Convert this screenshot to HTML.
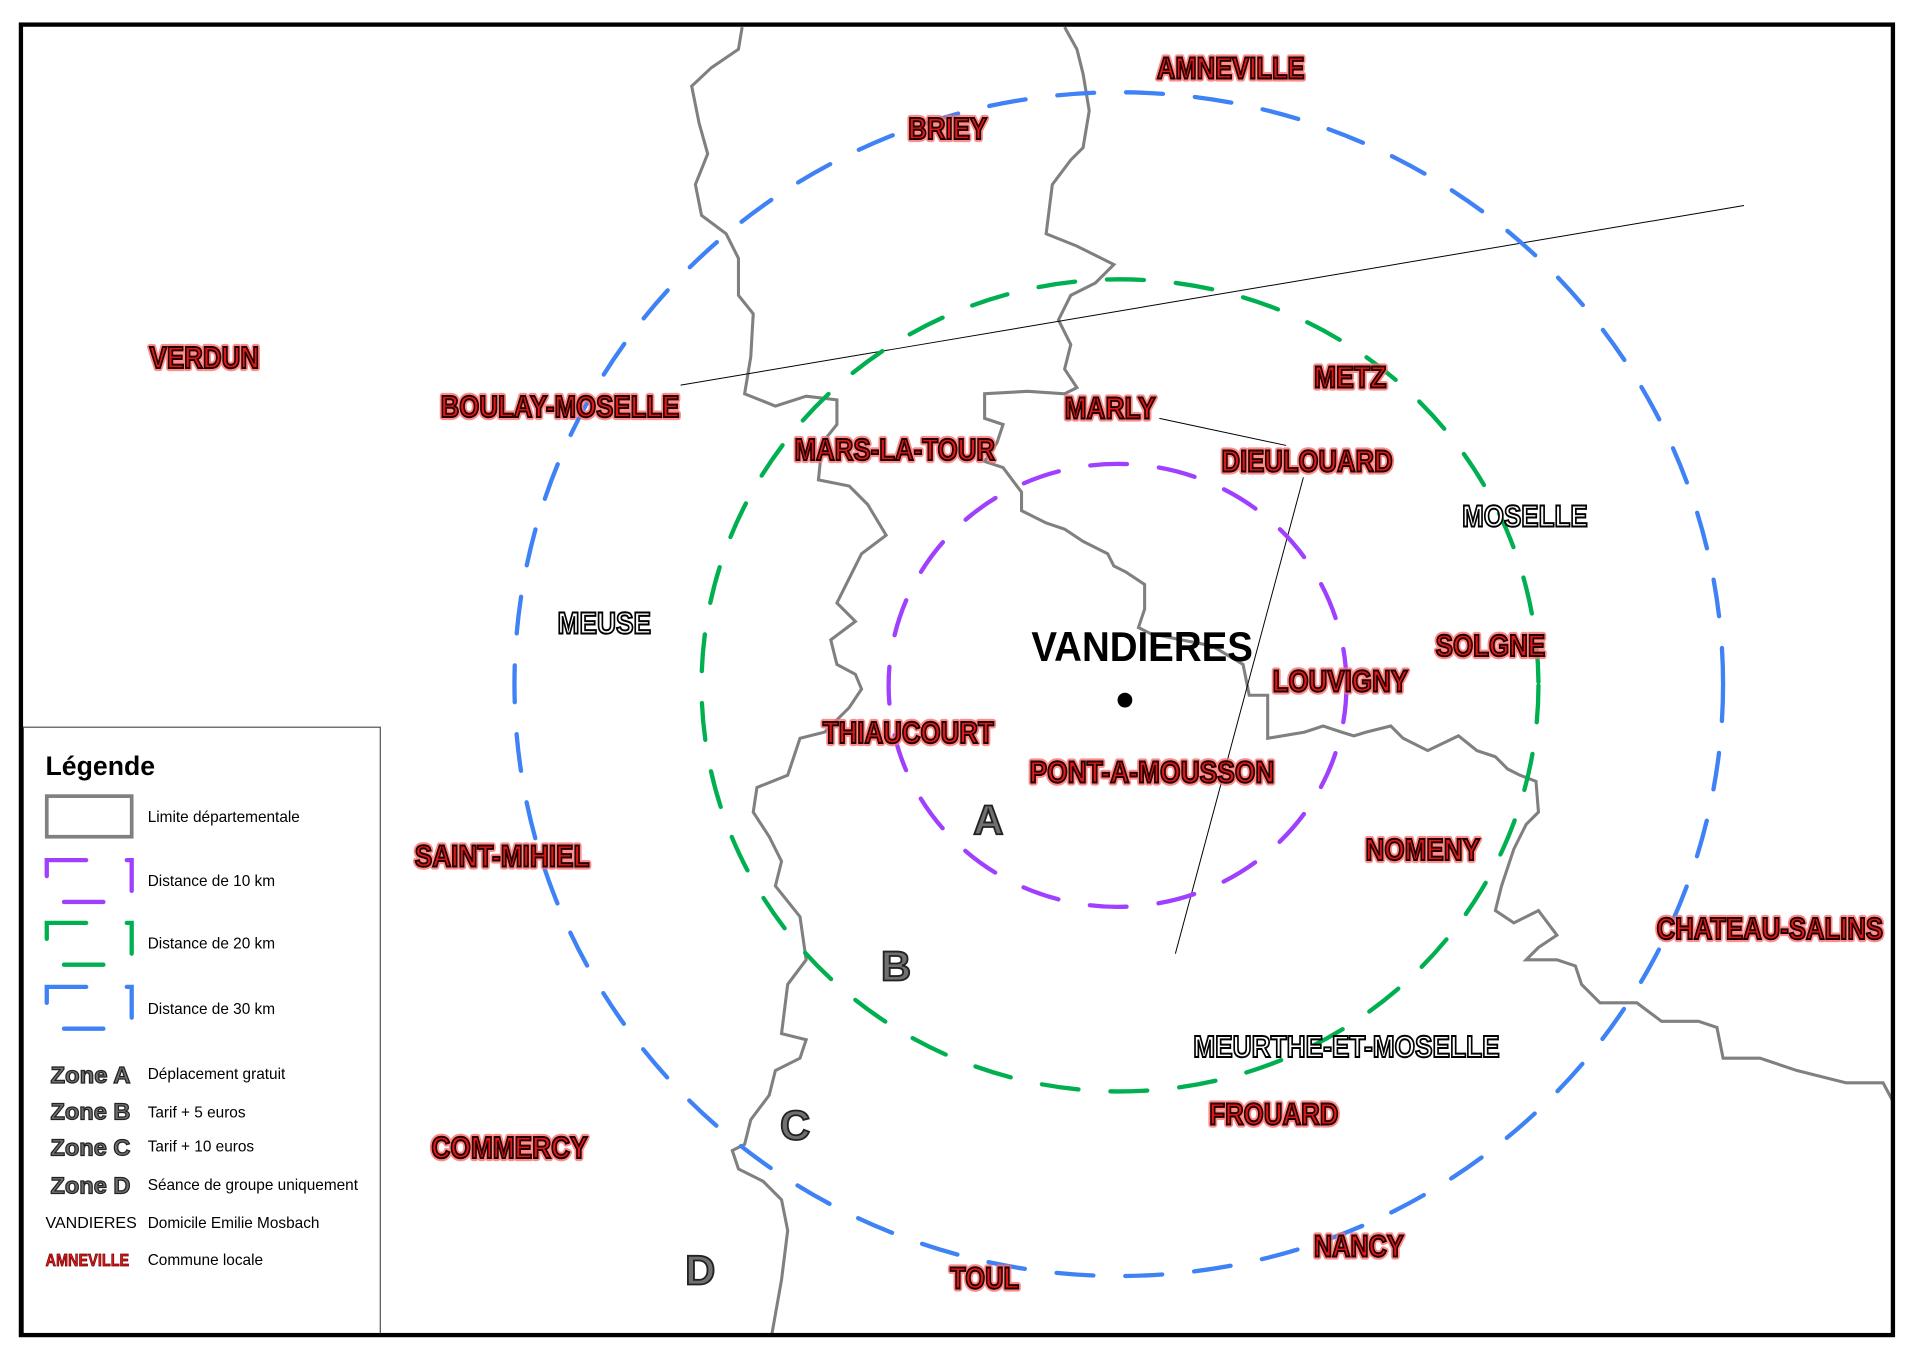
<!DOCTYPE html>
<html><head><meta charset="utf-8"><style>
html,body{margin:0;padding:0;background:#fff}
svg{display:block}
.lb{font-family:"Liberation Sans",Arial,sans-serif;font-size:25px;font-weight:bold}
</style></head><body>
<svg width="1920" height="1356" viewBox="0 0 1560 1102" preserveAspectRatio="none" xmlns="http://www.w3.org/2000/svg">
<rect x="0" y="0" width="1560" height="1102" fill="#fff"/>
<!-- department borders -->
<polyline fill="none" stroke="#808080" stroke-width="2.5" points="603,22 600,40 578,55 562,70 568,100 575,125 565,150 570,175 590,190 600,210 600,240 612,255 610,290 605,320 630,330 655,322 680,325 680,345 668,360 665,390 690,395 705,410 720,435 700,450 690,470 680,490 695,505 675,520 680,540 695,548 700,560 690,575 670,595 650,600 640,630 615,640 612,660 625,680 635,700 630,720 650,745 655,780 640,800 635,840 655,845 650,860 630,870 625,890 610,910 605,930 595,935 600,950 620,960 635,975 640,1000 635,1040 627,1085"/>
<polyline fill="none" stroke="#808080" stroke-width="2.5" points="865,22 875,40 880,60 885,90 880,120 870,130 855,150 850,190 875,200 905,215 890,230 870,240 860,260 870,280 865,300 875,315 865,320 835,318 800,320 800,340 815,345 810,360 800,375 815,380 830,400 830,415 850,425 865,430 880,440 900,450 905,460 915,465 930,475 930,495 925,510 935,515 960,520 985,525 1010,540 1015,565 1030,565 1030,600 1060,595 1075,590 1090,595 1100,598 1110,595 1130,590 1140,600 1160,610 1185,598 1200,610 1215,615 1225,625 1235,630 1248,635 1250,660 1240,670 1230,690 1220,720 1215,740 1230,750 1250,740 1265,760 1250,770 1240,780 1265,780 1280,785 1285,800 1300,815 1330,815 1350,830 1380,830 1395,835 1400,860 1430,860 1460,870 1500,880 1530,880 1538,895"/>
<!-- thin lines -->
<line x1="553" y1="313" x2="1417" y2="167" stroke="#000" stroke-width="0.8"/>
<polyline fill="none" stroke="#000" stroke-width="0.8" points="942,340 1045,362"/>
<line x1="1059" y1="388" x2="955" y2="775" stroke="#000" stroke-width="0.8"/>
<!-- circles -->
<ellipse cx="908" cy="557" rx="186" ry="180" fill="none" stroke="#a040ff" stroke-width="3.5" stroke-dasharray="30 26" stroke-linecap="round"/>
<ellipse cx="910" cy="557" rx="340" ry="330" fill="none" stroke="#00b050" stroke-width="3.5" stroke-dasharray="30 26" stroke-linecap="round"/>
<ellipse cx="909" cy="556" rx="491" ry="481" fill="none" stroke="#3f82f5" stroke-width="3.5" stroke-dasharray="30 26" stroke-linecap="round"/>
<!-- dot -->
<circle cx="914" cy="569" r="6" fill="#000"/>
<!-- red labels -->
<g class="lb" text-anchor="middle">
<g stroke="#ff7070" stroke-width="5" fill="#ff7070" stroke-linejoin="round" opacity="0.8">
<text x="1000" y="64" textLength="120" lengthAdjust="spacingAndGlyphs">AMNEVILLE</text>
<text x="770" y="113" textLength="64" lengthAdjust="spacingAndGlyphs">BRIEY</text>
<text x="166" y="299" textLength="89" lengthAdjust="spacingAndGlyphs">VERDUN</text>
<text x="455" y="339" textLength="194" lengthAdjust="spacingAndGlyphs">BOULAY-MOSELLE</text>
<text x="1097" y="315" textLength="59" lengthAdjust="spacingAndGlyphs">METZ</text>
<text x="902" y="340" textLength="74" lengthAdjust="spacingAndGlyphs">MARLY</text>
<text x="727" y="374" textLength="163" lengthAdjust="spacingAndGlyphs">MARS-LA-TOUR</text>
<text x="1062" y="383" textLength="139" lengthAdjust="spacingAndGlyphs">DIEULOUARD</text>
<text x="1211" y="533" textLength="89" lengthAdjust="spacingAndGlyphs">SOLGNE</text>
<text x="1089" y="562" textLength="110" lengthAdjust="spacingAndGlyphs">LOUVIGNY</text>
<text x="738" y="604" textLength="139" lengthAdjust="spacingAndGlyphs">THIAUCOURT</text>
<text x="936" y="636" textLength="199" lengthAdjust="spacingAndGlyphs">PONT-A-MOUSSON</text>
<text x="1156" y="699" textLength="93" lengthAdjust="spacingAndGlyphs">NOMENY</text>
<text x="408" y="704" textLength="142" lengthAdjust="spacingAndGlyphs">SAINT-MIHIEL</text>
<text x="1438" y="763" textLength="184" lengthAdjust="spacingAndGlyphs">CHATEAU-SALINS</text>
<text x="1035" y="914" textLength="105" lengthAdjust="spacingAndGlyphs">FROUARD</text>
<text x="414" y="941" textLength="127" lengthAdjust="spacingAndGlyphs">COMMERCY</text>
<text x="1104" y="1021" textLength="73" lengthAdjust="spacingAndGlyphs">NANCY</text>
<text x="800" y="1047" textLength="56" lengthAdjust="spacingAndGlyphs">TOUL</text>
</g>
<g stroke="#200" stroke-width="1.6" fill="#e01818">
<text x="1000" y="64" textLength="120" lengthAdjust="spacingAndGlyphs">AMNEVILLE</text>
<text x="770" y="113" textLength="64" lengthAdjust="spacingAndGlyphs">BRIEY</text>
<text x="166" y="299" textLength="89" lengthAdjust="spacingAndGlyphs">VERDUN</text>
<text x="455" y="339" textLength="194" lengthAdjust="spacingAndGlyphs">BOULAY-MOSELLE</text>
<text x="1097" y="315" textLength="59" lengthAdjust="spacingAndGlyphs">METZ</text>
<text x="902" y="340" textLength="74" lengthAdjust="spacingAndGlyphs">MARLY</text>
<text x="727" y="374" textLength="163" lengthAdjust="spacingAndGlyphs">MARS-LA-TOUR</text>
<text x="1062" y="383" textLength="139" lengthAdjust="spacingAndGlyphs">DIEULOUARD</text>
<text x="1211" y="533" textLength="89" lengthAdjust="spacingAndGlyphs">SOLGNE</text>
<text x="1089" y="562" textLength="110" lengthAdjust="spacingAndGlyphs">LOUVIGNY</text>
<text x="738" y="604" textLength="139" lengthAdjust="spacingAndGlyphs">THIAUCOURT</text>
<text x="936" y="636" textLength="199" lengthAdjust="spacingAndGlyphs">PONT-A-MOUSSON</text>
<text x="1156" y="699" textLength="93" lengthAdjust="spacingAndGlyphs">NOMENY</text>
<text x="408" y="704" textLength="142" lengthAdjust="spacingAndGlyphs">SAINT-MIHIEL</text>
<text x="1438" y="763" textLength="184" lengthAdjust="spacingAndGlyphs">CHATEAU-SALINS</text>
<text x="1035" y="914" textLength="105" lengthAdjust="spacingAndGlyphs">FROUARD</text>
<text x="414" y="941" textLength="127" lengthAdjust="spacingAndGlyphs">COMMERCY</text>
<text x="1104" y="1021" textLength="73" lengthAdjust="spacingAndGlyphs">NANCY</text>
<text x="800" y="1047" textLength="56" lengthAdjust="spacingAndGlyphs">TOUL</text>
</g>
<!-- department names -->
<g fill="#fff" stroke="#000" stroke-width="1.6">
<text x="1239" y="428" textLength="102" lengthAdjust="spacingAndGlyphs">MOSELLE</text>
<text x="491" y="515" textLength="76" lengthAdjust="spacingAndGlyphs">MEUSE</text>
<text x="1094" y="859" textLength="249" lengthAdjust="spacingAndGlyphs">MEURTHE-ET-MOSELLE</text>
</g>
<!-- zone letters -->
<g fill="#707070" stroke="#222" stroke-width="1.5" font-size="34">
<text x="803" y="678">A</text>
<text x="728" y="797">B</text>
<text x="646" y="926">C</text>
<text x="569" y="1044">D</text>
</g>
<text x="928" y="537" fill="#000" font-size="34" textLength="180" lengthAdjust="spacingAndGlyphs">VANDIERES</text>
</g>
<!-- legend -->
<rect x="19" y="591" width="290" height="494" fill="#fff" stroke="#555" stroke-width="1"/>
<g font-family="Liberation Sans,Arial,sans-serif">
<text x="37" y="630" font-size="22" font-weight="bold" textLength="89" lengthAdjust="spacingAndGlyphs">Légende</text>
<rect x="38" y="647" width="69" height="33" fill="none" stroke="#808080" stroke-width="3"/>
<g fill="none" stroke-width="3.5" stroke-linecap="round">
<path d="M38,712 V699 H70 M103,699 H107 V724 M52,733 H84" stroke="#a040ff"/>
<path d="M38,763 V750 H70 M103,750 H107 V775 M52,784 H84" stroke="#00b050"/>
<path d="M38,815 V802 H70 M103,802 H107 V827 M52,836 H84" stroke="#3f82f5"/>
</g>
<g font-size="12.5" fill="#000">
<text x="120" y="668">Limite départementale</text>
<text x="120" y="720">Distance de 10 km</text>
<text x="120" y="771">Distance de 20 km</text>
<text x="120" y="824">Distance de 30 km</text>
<text x="120" y="877">Déplacement gratuit</text>
<text x="120" y="908">Tarif + 5 euros</text>
<text x="120" y="936">Tarif + 10 euros</text>
<text x="120" y="967">Séance de groupe uniquement</text>
<text x="120" y="998">Domicile Emilie Mosbach</text>
<text x="120" y="1028">Commune locale</text>
<text x="37" y="998" font-size="13">VANDIERES</text>
</g>
<g font-size="19" font-weight="bold" fill="#707070" stroke="#222" stroke-width="1">
<text x="41" y="880" textLength="65" lengthAdjust="spacingAndGlyphs">Zone A</text>
<text x="41" y="910" textLength="65" lengthAdjust="spacingAndGlyphs">Zone B</text>
<text x="41" y="939" textLength="65" lengthAdjust="spacingAndGlyphs">Zone C</text>
<text x="41" y="970" textLength="65" lengthAdjust="spacingAndGlyphs">Zone D</text>
</g>
<text x="37" y="1029" font-size="14" font-weight="bold" fill="#e01818" stroke="#600" stroke-width="0.6" textLength="68" lengthAdjust="spacingAndGlyphs">AMNEVILLE</text>
</g>
<!-- frame -->
<rect x="17" y="20" width="1521" height="1065" fill="none" stroke="#000" stroke-width="3.5"/>
</svg>
</body></html>
